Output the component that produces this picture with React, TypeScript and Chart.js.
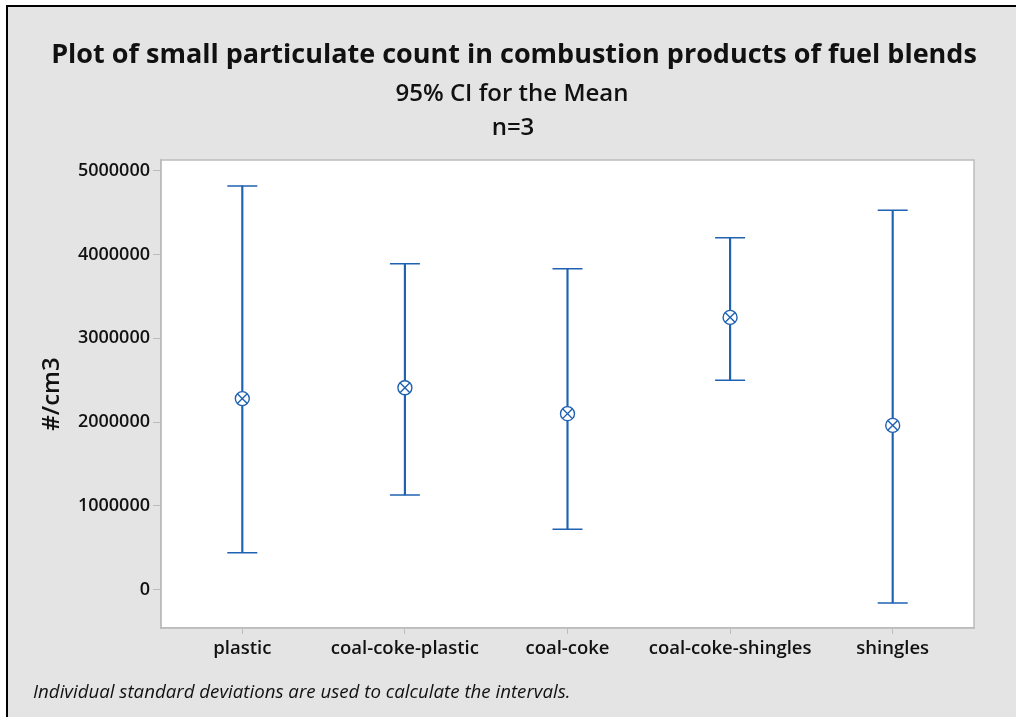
import { useEffect, useRef } from 'react';
import { Chart, registerables } from 'chart.js';

Chart.register(...registerables);

// Fuel blends and their particulate counts (#/cm3): mean with 95% CI bounds
const categories = ['plastic', 'coal-coke-plastic', 'coal-coke', 'coal-coke-shingles', 'shingles'];
const means = [2280000, 2410000, 2100000, 3250000, 1960000];
const upperCI = [4820000, 3890000, 3830000, 4200000, 4530000];
const lowerCI = [440000, 1130000, 720000, 2500000, -160000];
const yTickValues = [0, 1000000, 2000000, 3000000, 4000000, 5000000];
const yMin = -460000;
const yMax = 5130000;

const titleText = 'Plot of small particulate count in combustion products of fuel blends';
const subtitleLines = ['95% CI for the Mean', 'n=3'];
const yAxisTitle = '#/cm3';
const footnoteText = 'Individual standard deviations are used to calculate the intervals.';

const W = 1016;
const H = 717;
const FONT = '"Open Sans", "Noto Sans", sans-serif';
const BLUE = '#1f62b2';
const PANEL = '#e4e4e4';
const FRAME = '#bcbcbc';
const INK = '#111111';

// Gray panel with a dark frame, white data region, and the heading/footnote text
const panelPlugin = {
  id: 'panel',
  beforeDraw(chart: Chart) {
    const { ctx, chartArea } = chart;
    ctx.save();
    ctx.fillStyle = '#ffffff';
    ctx.fillRect(0, 0, W, H);
    ctx.fillStyle = PANEL;
    ctx.fillRect(7, 6, W - 7, H - 6);
    ctx.fillStyle = '#000000';
    ctx.fillRect(6, 5, W - 6, 2);
    ctx.fillRect(6, 5, 2, H - 5);

    ctx.fillStyle = '#ffffff';
    ctx.fillRect(chartArea.left, chartArea.top, chartArea.right - chartArea.left, chartArea.bottom - chartArea.top);
    ctx.strokeStyle = FRAME;
    ctx.lineWidth = 1.5;
    ctx.strokeRect(chartArea.left, chartArea.top, chartArea.right - chartArea.left, chartArea.bottom - chartArea.top);

    ctx.fillStyle = INK;
    ctx.textAlign = 'center';
    ctx.textBaseline = 'middle';
    ctx.font = `bold 27px ${FONT}`;
    ctx.fillText(titleText, 514, 55);
    ctx.font = `600 24px ${FONT}`;
    ctx.fillText(subtitleLines[0], 512, 94);
    ctx.fillText(subtitleLines[1], 513, 128);

    ctx.textAlign = 'left';
    ctx.font = `italic 18.7px ${FONT}`;
    ctx.fillText(footnoteText, 33, 693);
    ctx.restore();
  },
};

export default function App() {
  const canvasRef = useRef<HTMLCanvasElement | null>(null);

  useEffect(() => {
    document.documentElement.style.overflow = 'hidden';
    document.body.style.margin = '0';
    document.body.style.overflow = 'hidden';
    const canvas = canvasRef.current;
    if (!canvas) return;

    const yTickFont = { family: FONT, size: 18, weight: 600 as const };
    const xTickFont = { family: FONT, size: 18.5, weight: 600 as const };

    const chart = new Chart(canvas, {
      type: 'bar',
      data: {
        labels: categories,
        datasets: [
          {
            type: 'bar',
            data: lowerCI.map((lo, i) => [lo, upperCI[i]]) as any,
            backgroundColor: BLUE,
            borderWidth: 0,
            barThickness: 1.5,
            grouped: false,
            order: 4,
          },
          {
            type: 'line',
            data: upperCI,
            showLine: false,
            pointStyle: 'line',
            pointRadius: 15,
            pointHoverRadius: 15,
            pointBorderWidth: 1.5,
            pointBorderColor: BLUE,
            borderColor: BLUE,
            order: 3,
          },
          {
            type: 'line',
            data: lowerCI,
            showLine: false,
            pointStyle: 'line',
            pointRadius: 15,
            pointHoverRadius: 15,
            pointBorderWidth: 1.5,
            pointBorderColor: BLUE,
            borderColor: BLUE,
            order: 3,
          },
          {
            type: 'line',
            data: means,
            showLine: false,
            pointStyle: 'circle',
            pointRadius: 7,
            pointHoverRadius: 7,
            pointBorderWidth: 1.4,
            pointBorderColor: BLUE,
            pointBackgroundColor: '#ffffff',
            borderColor: BLUE,
            order: 2,
          },
          {
            type: 'line',
            data: means,
            showLine: false,
            pointStyle: 'crossRot',
            pointRadius: 7,
            pointHoverRadius: 7,
            pointBorderWidth: 1.4,
            pointBorderColor: BLUE,
            borderColor: BLUE,
            order: 1,
          },
        ],
      },
      options: {
        responsive: false,
        animation: false,
        events: [],
        layout: { padding: { left: 30, right: 42, top: 160, bottom: 29 } },
        plugins: {
          legend: { display: false },
          tooltip: { enabled: false },
          title: { display: false },
        },
        scales: {
          x: {
            type: 'category',
            offset: true,
            grid: {
              display: true,
              offset: false,
              drawOnChartArea: false,
              drawTicks: true,
              tickLength: 6,
              color: FRAME,
            },
            border: { display: true, color: FRAME, width: 1.5 },
            ticks: { font: xTickFont, color: INK, padding: 4, maxRotation: 0, autoSkip: false },
            afterFit(scale: any) {
              scale.height = 60;
            },
          },
          y: {
            type: 'linear',
            min: yMin,
            max: yMax,
            afterBuildTicks(scale: any) {
              scale.ticks = yTickValues.map((v) => ({ value: v }));
            },
            grid: { display: true, drawOnChartArea: false, drawTicks: true, tickLength: 8, color: FRAME },
            border: { display: true, color: FRAME, width: 1.5 },
            ticks: {
              font: yTickFont,
              color: INK,
              padding: 3,
              callback: (v: any) => String(v),
            },
            title: {
              display: true,
              text: yAxisTitle,
              color: INK,
              font: { family: FONT, size: 24, weight: 600 as const },
              padding: { top: 8, bottom: 0 },
            },
            afterFit(scale: any) {
              scale.width = 131;
            },
          },
        },
      },
      plugins: [panelPlugin],
    });

    return () => chart.destroy();
  }, []);

  return <canvas ref={canvasRef} width={W} height={H} style={{ display: 'block' }} />;
}
